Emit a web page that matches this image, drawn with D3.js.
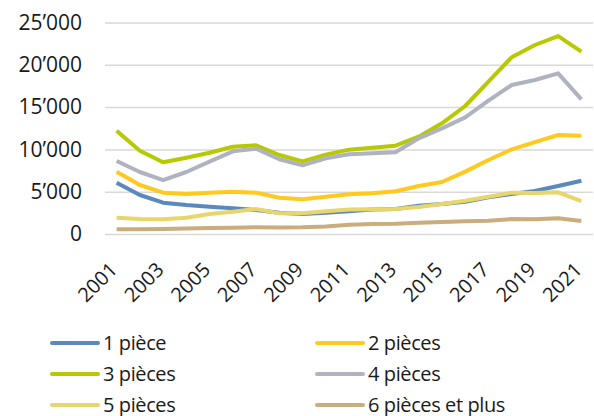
<!DOCTYPE html>
<html><head><meta charset="utf-8">
<script src="https://cdn.jsdelivr.net/npm/d3@7"></script>
<style>
html,body{margin:0;padding:0;background:#fff;}
svg{display:block;font-family:"Open Sans",sans-serif;}
</style></head>
<body>
<svg id="chart" width="594" height="416"></svg>
<script>
const years = [2001,2002,2003,2004,2005,2006,2007,2008,2009,2010,2011,2012,2013,2014,2015,2016,2017,2018,2019,2020,2021];
const yTicks = [0,5000,10000,15000,20000,25000];
const seriesNames = ["1 pièce","2 pièces","3 pièces","4 pièces","5 pièces","6 pièces et plus"];
const seriesColors = ["#5A89BE","#FFC91E","#B7C900","#AEB3BF","#E8D66C","#C9AD7C"];
const piece1 = [6070,4610,3700,3430,3230,3040,2840,2520,2360,2520,2700,2900,2960,3350,3550,3820,4340,4730,5080,5670,6300];
const piece2 = [7370,5790,4890,4730,4890,5000,4890,4290,4100,4410,4690,4810,5050,5670,6150,7370,8750,10010,10870,11700,11620];
const piece3 = [12210,9850,8480,9020,9610,10320,10480,9340,8580,9380,9970,10200,10440,11500,13080,15130,18000,20890,22340,23400,21550];
const piece4 = [8630,7330,6380,7330,8550,9770,10090,8830,8120,8950,9420,9540,9660,11310,12490,13790,15760,17610,18200,18990,15920];
const piece5 = [1930,1770,1730,1930,2360,2640,2960,2440,2440,2680,2900,2920,2960,3190,3550,3940,4410,4890,4850,4930,3900];
const piece6 = [550,570,590,650,710,750,790,770,790,900,1080,1180,1220,1330,1420,1520,1570,1770,1730,1850,1540];
const seriesValues = [piece1,piece2,piece3,piece4,piece5,piece6];

const svg = d3.select("#chart");
const x = d3.scaleBand().domain(years).range([105,593]);
const y = d3.scaleLinear().domain([0,25000]).range([234,22.5]);
const fmt = v => d3.format(",")(v).replace(/,/g,"\u2019");

// gridlines + y labels
const yAxis = d3.axisLeft(y).tickValues(yTicks).tickSize(-(593-105)).tickFormat(fmt).tickPadding(23);
const gy = svg.append("g").attr("transform","translate(105,0)").call(yAxis);
gy.select(".domain").remove();
gy.selectAll(".tick line").attr("stroke","#d9d9d9").attr("stroke-width",1.5);
gy.selectAll(".tick text").attr("font-size",21).attr("fill","#1a1a1a").attr("font-family","Open Sans");

// x axis labels
const xAxis = d3.axisBottom(x).tickValues(years.filter((d,i)=>i%2===0)).tickSize(0).tickFormat(d3.format("d"));
const gx = svg.append("g").attr("transform","translate(0,234)").call(xAxis);
gx.select(".domain").remove();
gx.selectAll(".tick text")
  .attr("font-size",20).attr("fill","#1a1a1a").attr("font-family","Open Sans")
  .attr("text-anchor","end").attr("dy",null).attr("y",null).attr("x",null)
  .attr("transform","translate(2,37) rotate(-45)");

// lines
const line = d3.line().x((d,i)=>x(years[i])+x.bandwidth()/2).y(d=>y(d));
seriesValues.forEach((vals,k)=>{
  svg.append("path").datum(vals).attr("d",line)
    .attr("fill","none").attr("stroke",seriesColors[k]).attr("stroke-width",4)
    .attr("stroke-linejoin","round");
});

// legend
const legX = [52,317], legY = [343,374,405];
seriesNames.forEach((name,k)=>{
  const lx = legX[k%2], ly = legY[Math.floor(k/2)];
  const g = svg.append("g").attr("transform",`translate(${lx},${ly})`);
  g.append("line").attr("x1",0).attr("x2",46).attr("y1",0).attr("y2",0)
    .attr("stroke",seriesColors[k]).attr("stroke-width",4).attr("stroke-linecap","round");
  g.append("text").attr("x",51).attr("y",0).attr("dy","0.35em")
    .attr("font-size",20).attr("letter-spacing","-0.4px").attr("fill","#1a1a1a").text(name);
});
</script>
</body></html>
